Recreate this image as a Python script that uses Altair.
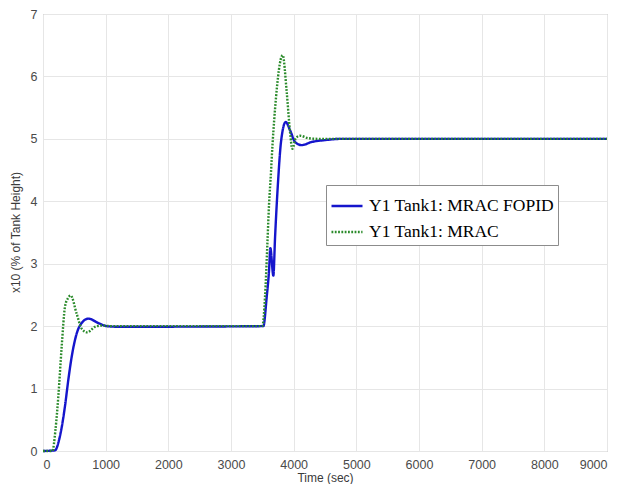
import altair as alt
import pandas as pd

# Series names
S_FOPID = "Y1 Tank1: MRAC FOPID"
S_MRAC = "Y1 Tank1: MRAC"

# MRAC FOPID (blue, solid)
fopid_t = [0, 190, 271, 351, 404, 458, 537, 617, 724, 883, 1016, 1200, 3516, 3570, 3607,
           3628, 3676, 3703, 3750, 3798, 3873, 3942, 4022, 4129, 4288, 4500, 4767, 9000]
fopid_y = [0, 0.01, 0.24, 0.72, 1.14, 1.51, 1.88, 2.05, 2.12, 2.05, 2.0, 1.99, 2.0, 2.47, 2.89,
           3.25, 2.81, 3.42, 4.3, 4.95, 5.27, 5.14, 4.95, 4.90, 4.95, 4.98, 5.0, 5.0]

# MRAC (green, dotted)
mrac_t = [0, 150, 200, 245, 298, 351, 400, 442, 537, 617, 708, 830, 937, 1100, 3500, 3543,
          3580, 3607, 3639, 3650, 3703, 3825, 3889, 3942, 3979, 4033, 4102, 4235, 4400, 9000]
mrac_y = [0, 0, 0.35, 0.88, 1.67, 2.31, 2.45, 2.49, 2.20, 1.96, 1.90, 1.99, 2.01, 2.0, 2.0, 2.47,
          3.31, 3.95, 4.48, 4.69, 5.48, 6.34, 5.75, 5.11, 4.84, 5.01, 5.05, 5.01, 5.0, 5.0]

x_ticks = [0, 1000, 2000, 3000, 4000, 5000, 6000, 7000, 8000, 9000]
y_ticks = [0, 1, 2, 3, 4, 5, 6, 7]

df = pd.concat([
    pd.DataFrame({"t": fopid_t, "y": fopid_y, "series": S_FOPID, "ord": 0}),
    pd.DataFrame({"t": mrac_t, "y": mrac_y, "series": S_MRAC, "ord": 1}),
])

series_domain = [S_FOPID, S_MRAC]

legend = alt.Legend(
    title=None,
    orient="none",
    legendX=283,
    legendY=171,
    direction="vertical",
    symbolType="stroke",
    symbolSize=961,
    symbolStrokeWidth=2.4,
    labelFont="Liberation Serif",
    labelFontSize=17.5,
    labelColor="black",
    labelOffset=5,
    labelLimit=400,
    rowPadding=0,
    padding=4,
    strokeColor="#8c8c8c",
    fillColor="white",
)

chart = alt.Chart(df).mark_line(strokeWidth=2.4, interpolate="monotone").encode(
    x=alt.X("t:Q", scale=alt.Scale(domain=[0, 9000], nice=False),
            axis=alt.Axis(values=x_ticks, title="Time (sec)", format="d",
                          labelPadding=7, titleY=30, titleBaseline="alphabetic")),
    y=alt.Y("y:Q", scale=alt.Scale(domain=[0, 7], nice=False),
            axis=alt.Axis(values=y_ticks, title="x10 (% of Tank Height)", format="d",
                          labelPadding=6, titleX=-28, titleY=218, titleBaseline="middle",
                          titleAlign="center", titleAngle=-90)),
    color=alt.Color("series:N", scale=alt.Scale(domain=series_domain, range=["#1515cc", "#2a8a2a"]),
                    legend=legend),
    strokeDash=alt.StrokeDash("series:N", scale=alt.Scale(domain=series_domain, range=[[1, 0], [1.8, 1.5]]),
                              legend=legend),
    order=alt.Order("ord:Q"),
).properties(
    width=564,
    height=437,
    autosize=alt.AutoSizeParams(type="none"),
    padding={"left": 35, "top": 6, "right": 16, "bottom": 33},
).configure_view(
    stroke="#9a9a9a", strokeWidth=1
).configure_axis(
    grid=True,
    gridColor="#e6e6e6",
    ticks=False,
    domain=False,
    labelFont="Liberation Sans",
    labelFontSize=12.5,
    labelColor="#4a4a4a",
    titleFont="Liberation Sans",
    titleFontSize=12,
    titleFontWeight="normal",
    titleColor="#3a3a3a",
)

chart.save("out.html", embed_options={"renderer": "svg", "actions": False})
